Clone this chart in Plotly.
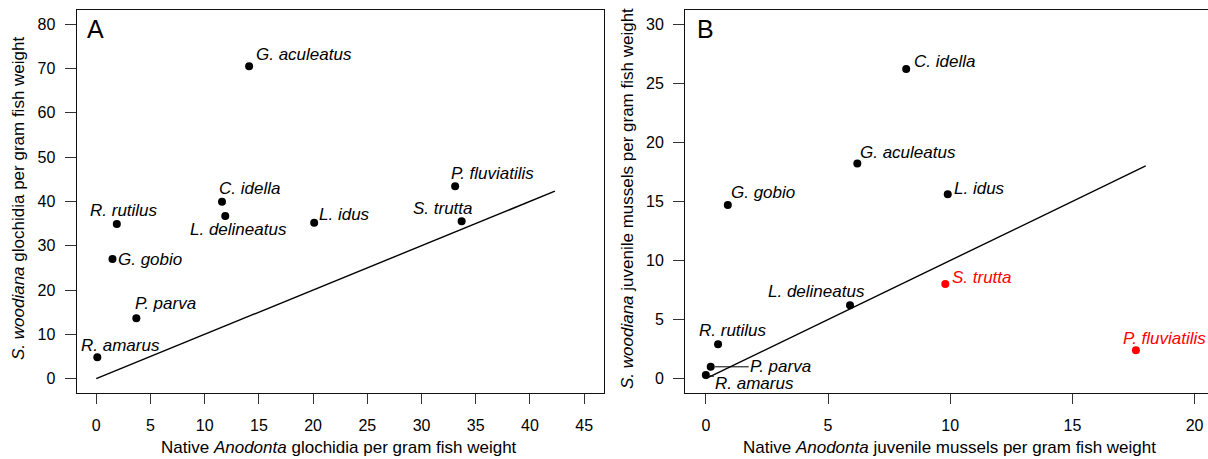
import plotly.graph_objects as go

# ---- Panel A: glochidia per gram fish weight ----
species_a = ["G. aculeatus", "P. fluviatilis", "C. idella", "L. delineatus", "R. rutilus",
             "L. idus", "S. trutta", "G. gobio", "P. parva", "R. amarus"]
native_a = [14.1, 33.1, 11.6, 11.9, 1.9, 20.1, 33.7, 1.5, 3.7, 0.1]
woodiana_a = [70.5, 43.4, 39.9, 36.7, 34.9, 35.2, 35.5, 27.0, 13.6, 4.8]
one_to_one_a = [0, 42.3]

# ---- Panel B: juvenile mussels per gram fish weight ----
species_b = ["C. idella", "G. aculeatus", "L. idus", "G. gobio", "S. trutta",
             "L. delineatus", "R. rutilus", "P. fluviatilis", "P. parva", "R. amarus"]
native_b = [8.2, 6.2, 9.9, 0.9, 9.8, 5.9, 0.5, 17.6, 0.2, 0.0]
woodiana_b = [26.2, 18.2, 15.6, 14.7, 8.0, 6.2, 2.9, 2.4, 1.0, 0.3]
highlighted_b = ["S. trutta", "P. fluviatilis"]
one_to_one_b = [0, 18.0]

ticks_xa = list(range(0, 50, 5))
ticks_ya = list(range(0, 90, 10))
ticks_xb = list(range(0, 25, 5))
ticks_yb = list(range(0, 35, 5))

# label placement (pixel offsets of the label centre from its point)
offsets_a = {
    "G. aculeatus": (55, 12), "P. fluviatilis": (37, 13), "C. idella": (27, 13),
    "L. delineatus": (13, -13), "R. rutilus": (7, 13), "L. idus": (30, 8),
    "S. trutta": (-19, 13), "G. gobio": (38, 0), "P. parva": (29, 15),
    "R. amarus": (23, 12),
}
offsets_b = {
    "C. idella": (38, 8), "G. aculeatus": (51, 11), "L. idus": (32, 6),
    "G. gobio": (35, 12), "S. trutta": (37, 7), "L. delineatus": (-33, 14),
    "R. rutilus": (15, 14), "P. fluviatilis": (29, 12),
}
# labels joined to their point by a short leader line (offset in pixels, y down)
leaders_b = {"P. parva": (70, 0), "R. amarus": (49, 8)}

W, H = 1208, 459
FONT = "Liberation Sans, Arial, sans-serif"
RED = "#ff0000"


def px_x(p):
    return p / W


def px_y(p):
    return 1 - p / H


fig = go.Figure()

# 1:1 reference lines
fig.add_trace(go.Scatter(x=one_to_one_a, y=one_to_one_a, mode="lines",
                         line=dict(color="black", width=1.4), xaxis="x", yaxis="y",
                         hoverinfo="skip"))
fig.add_trace(go.Scatter(x=one_to_one_b, y=one_to_one_b, mode="lines",
                         line=dict(color="black", width=1.4), xaxis="x2", yaxis="y2",
                         hoverinfo="skip"))

# points
fig.add_trace(go.Scatter(x=native_a, y=woodiana_a, mode="markers", text=species_a,
                         marker=dict(color="black", size=8), xaxis="x", yaxis="y"))
colors_b = [RED if s in highlighted_b else "black" for s in species_b]
fig.add_trace(go.Scatter(x=native_b, y=woodiana_b, mode="markers", text=species_b,
                         marker=dict(color=colors_b, size=8), xaxis="x2", yaxis="y2"))

LABEL_SIZE = 17
annotations = []
for s, xv, yv in zip(species_a, native_a, woodiana_a):
    dx, dy = offsets_a[s]
    annotations.append(dict(x=xv, y=yv, xref="x", yref="y", text=f"<i>{s}</i>",
                            showarrow=False, xanchor="center", yanchor="middle",
                            xshift=dx, yshift=dy,
                            font=dict(family=FONT, size=LABEL_SIZE, color="black")))
for s, xv, yv, c in zip(species_b, native_b, woodiana_b, colors_b):
    if s in leaders_b:
        ax, ay = leaders_b[s]
        annotations.append(dict(x=xv, y=yv, xref="x2", yref="y2", text=f"<i>{s}</i>",
                                showarrow=True, arrowhead=0, arrowwidth=1,
                                arrowcolor="black", ax=ax, ay=ay, standoff=4,
                                xanchor="center", yanchor="middle",
                                font=dict(family=FONT, size=LABEL_SIZE, color=c)))
    else:
        dx, dy = offsets_b[s]
        annotations.append(dict(x=xv, y=yv, xref="x2", yref="y2", text=f"<i>{s}</i>",
                                showarrow=False, xanchor="center", yanchor="middle",
                                xshift=dx, yshift=dy,
                                font=dict(family=FONT, size=LABEL_SIZE, color=c)))

# panel letters
annotations.append(dict(x=px_x(85), y=px_y(29), xref="paper", yref="paper", text="A",
                        showarrow=False, xanchor="left", yanchor="middle",
                        font=dict(family=FONT, size=25, color="black")))
annotations.append(dict(x=px_x(695), y=px_y(29), xref="paper", yref="paper", text="B",
                        showarrow=False, xanchor="left", yanchor="middle",
                        font=dict(family=FONT, size=25, color="black")))

# axis titles
title_font = dict(family=FONT, size=17, color="black")
annotations.append(dict(x=px_x(339), y=px_y(447), xref="paper", yref="paper",
                        text="Native <i>Anodonta</i> glochidia per gram fish weight",
                        showarrow=False, xanchor="center", yanchor="middle", font=title_font))
annotations.append(dict(x=px_x(949), y=px_y(447), xref="paper", yref="paper",
                        text="Native <i>Anodonta</i> juvenile mussels per gram fish weight",
                        showarrow=False, xanchor="center", yanchor="middle", font=title_font))
annotations.append(dict(x=px_x(19), y=px_y(199), xref="paper", yref="paper",
                        text="<i>S. woodiana</i> glochidia per gram fish weight",
                        textangle=-90, showarrow=False, xanchor="center", yanchor="middle",
                        font=title_font))
annotations.append(dict(x=px_x(628), y=px_y(199), xref="paper", yref="paper",
                        text="<i>S. woodiana</i> juvenile mussels per gram fish weight",
                        textangle=-90, showarrow=False, xanchor="center", yanchor="middle",
                        font=title_font))

common = dict(showgrid=False, zeroline=False, showline=True, linecolor="#111",
              linewidth=1.4, ticks="outside", tickcolor="#333", tickwidth=1.2,
              tickfont=dict(family=FONT, size=16, color="black"), fixedrange=True)

fig.update_layout(
    width=W, height=H,
    margin=dict(l=0, r=0, t=0, b=0),
    paper_bgcolor="white", plot_bgcolor="white",
    showlegend=False,
    xaxis=dict(domain=[px_x(76.7), px_x(603.7)], range=[-1.8, 46.8], tickvals=ticks_xa,
               ticklen=10, ticklabelstandoff=8, mirror=True, anchor="y", **common),
    yaxis=dict(domain=[px_y(392.8), px_y(10)], range=[-3.2, 83.2], tickvals=ticks_ya,
               ticklen=11, ticklabelstandoff=6, mirror=True, anchor="x", **common),
    xaxis2=dict(domain=[px_x(685.3), 1.0], range=[-0.84, 20.55], tickvals=ticks_xb,
                ticklen=10, ticklabelstandoff=8, mirror=True, anchor="y2", **common),
    yaxis2=dict(domain=[px_y(392.8), px_y(10)], range=[-1.2, 31.2], tickvals=ticks_yb,
                ticklen=11, ticklabelstandoff=6, mirror=False, anchor="x2", **common),
    annotations=annotations,
)

fig.write_html("out.html")
